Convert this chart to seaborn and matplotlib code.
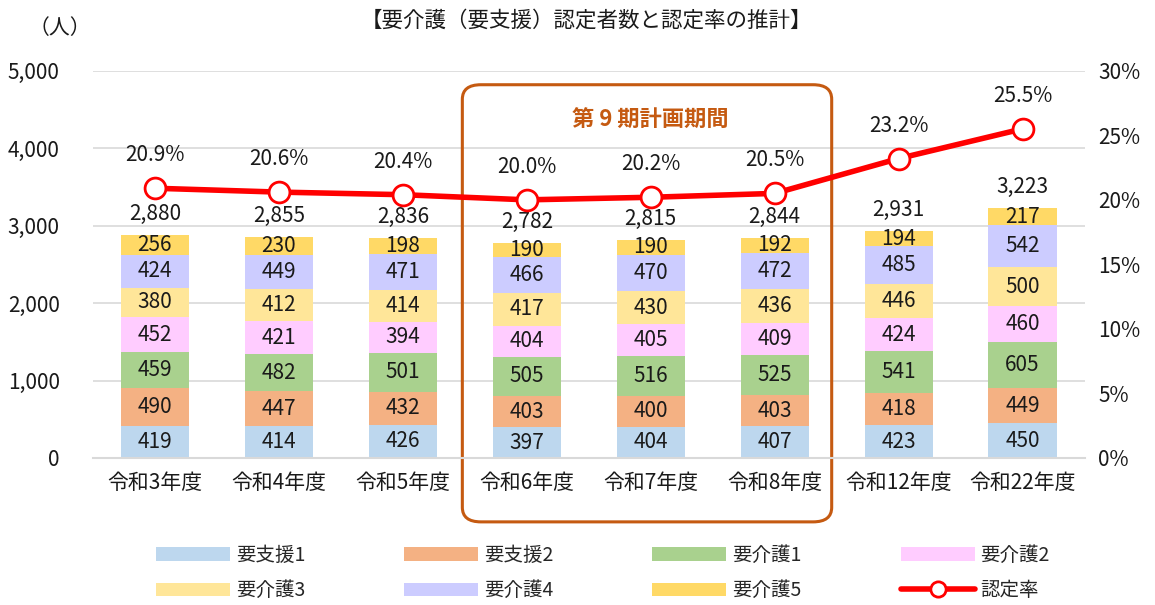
import numpy as np
import matplotlib.pyplot as plt
import seaborn as sns
from matplotlib.patches import FancyBboxPatch, Patch
from matplotlib.lines import Line2D
from matplotlib.ticker import FuncFormatter, FixedLocator
import matplotlib.transforms as mtransforms

# データ
years = ["令和3年度", "令和4年度", "令和5年度", "令和6年度", "令和7年度", "令和8年度", "令和12年度", "令和22年度"]
shien1 = [419, 414, 426, 397, 404, 407, 423, 450]
shien2 = [490, 447, 432, 403, 400, 403, 418, 449]
kaigo1 = [459, 482, 501, 505, 516, 525, 541, 605]
kaigo2 = [452, 421, 394, 404, 405, 409, 424, 460]
kaigo3 = [380, 412, 414, 417, 430, 436, 446, 500]
kaigo4 = [424, 449, 471, 466, 470, 472, 485, 542]
kaigo5 = [256, 230, 198, 190, 190, 192, 194, 217]
totals = [2880, 2855, 2836, 2782, 2815, 2844, 2931, 3223]
rate = [20.9, 20.6, 20.4, 20.0, 20.2, 20.5, 23.2, 25.5]

series_names = ["要支援1", "要支援2", "要介護1", "要介護2", "要介護3", "要介護4", "要介護5"]
series = [shien1, shien2, kaigo1, kaigo2, kaigo3, kaigo4, kaigo5]
colors = ["#BDD7EE", "#F4B183", "#A9D18E", "#FFCCFF", "#FFE699", "#CCCCFF", "#FFD966"]

sns.set_style("white")
plt.rcParams['font.family'] = ['Noto Sans CJK JP', 'DejaVu Sans']

fig = plt.figure(figsize=(11.55, 6.05), dpi=100)
ax = fig.add_axes([0.0805, 0.243, 0.8585, 0.64])

# 積み上げ棒（上の段から順に累積値で重ねて描く）
cum = np.cumsum(np.array(series), axis=0)
for i in range(len(series) - 1, -1, -1):
    sns.barplot(x=years, y=cum[i], color=colors[i], width=0.55, saturation=1,
                edgecolor="none", linewidth=0, ax=ax)

# 棒内ラベル
for i, s in enumerate(series):
    for j, v in enumerate(s):
        mid = cum[i][j] - v / 2
        ax.text(j, mid, str(v), ha="center", va="center", fontsize=15, color="#1a1a1a")

# 合計ラベル
for j, t in enumerate(totals):
    ax.text(j, t + 130, f"{t:,}", ha="center", va="bottom", fontsize=15, color="#1a1a1a")

ax.set_ylim(0, 5000)
ax.set_xlim(-0.5, len(years) - 0.5)
ax.yaxis.set_major_locator(FixedLocator([0, 1000, 2000, 3000, 4000, 5000]))
ax.yaxis.set_major_formatter(FuncFormatter(lambda v, p: f"{int(v):,}"))
ax.grid(axis="y", color="#d9d9d9", linewidth=1.2)
ax.set_axisbelow(True)
for sp in ["top", "right", "left"]:
    ax.spines[sp].set_visible(False)
ax.spines["bottom"].set_color("#d9d9d9")
ax.spines["bottom"].set_linewidth(1.5)
ax.tick_params(axis="both", length=0, labelsize=15, colors="#1a1a1a")
ax.tick_params(axis="y", pad=24)
ax.tick_params(axis="x", pad=10)
ax.set_xlabel("")
ax.set_ylabel("")

# 認定率（右軸）
ax2 = ax.twinx()
xpos = np.arange(len(years))
sns.lineplot(x=xpos, y=rate, color="#FF0000", linewidth=4, marker="o", markersize=15,
             markerfacecolor="white", markeredgecolor="#FF0000", markeredgewidth=2,
             ax=ax2, zorder=5)
for j, r in enumerate(rate):
    ax2.text(j, r + 1.7, f"{r:.1f}%", ha="center", va="bottom", fontsize=15, color="#1a1a1a")
ax2.set_ylim(0, 30)
ax2.yaxis.set_major_locator(FixedLocator([0, 5, 10, 15, 20, 25, 30]))
ax2.yaxis.set_major_formatter(FuncFormatter(lambda v, p: f"{int(v)}%"))
ax2.tick_params(axis="y", length=0, labelsize=15, colors="#1a1a1a", pad=10)
for sp in ax2.spines.values():
    sp.set_visible(False)
ax2.set_ylabel("")

# 第9期計画期間の枠
trans = mtransforms.blended_transform_factory(ax.transData, ax.transAxes)
box = FancyBboxPatch((2.48, -0.165), 2.98, 1.129, boxstyle="round,pad=0,rounding_size=0.15",
                     transform=trans, fill=False, edgecolor="#C55A11", linewidth=2.2,
                     clip_on=False, mutation_aspect=0.25)
ax.add_patch(box)
ax.text(4, 0.873, "第 9 期計画期間", transform=trans, ha="center", va="center",
        fontsize=16, fontweight="bold", color="#C55A11")

# タイトル・単位
fig.text(0.508, 0.966, "【要介護（要支援）認定者数と認定率の推計】", ha="center", va="center",
         fontsize=15.5, color="#1a1a1a")
fig.text(0.052, 0.953, "（人）", ha="center", va="center", fontsize=15, color="#1a1a1a")

# 凡例
handles = [Patch(facecolor=c, edgecolor="none") for c in colors]
handles.append(Line2D([0], [0], color="#FF0000", linewidth=4, marker="o", markersize=11,
                      markerfacecolor="white", markeredgecolor="#FF0000", markeredgewidth=2))
labels = series_names + ["認定率"]
order = [0, 4, 1, 5, 2, 6, 3, 7]
fig.legend([handles[k] for k in order], [labels[k] for k in order], ncol=4,
           loc="center", bbox_to_anchor=(0.522, 0.053), frameon=False, fontsize=14,
           handlelength=3.8, handleheight=0.7, columnspacing=5.1, handletextpad=0.3,
           labelspacing=0.75)

fig.savefig("out.png", dpi=100)
